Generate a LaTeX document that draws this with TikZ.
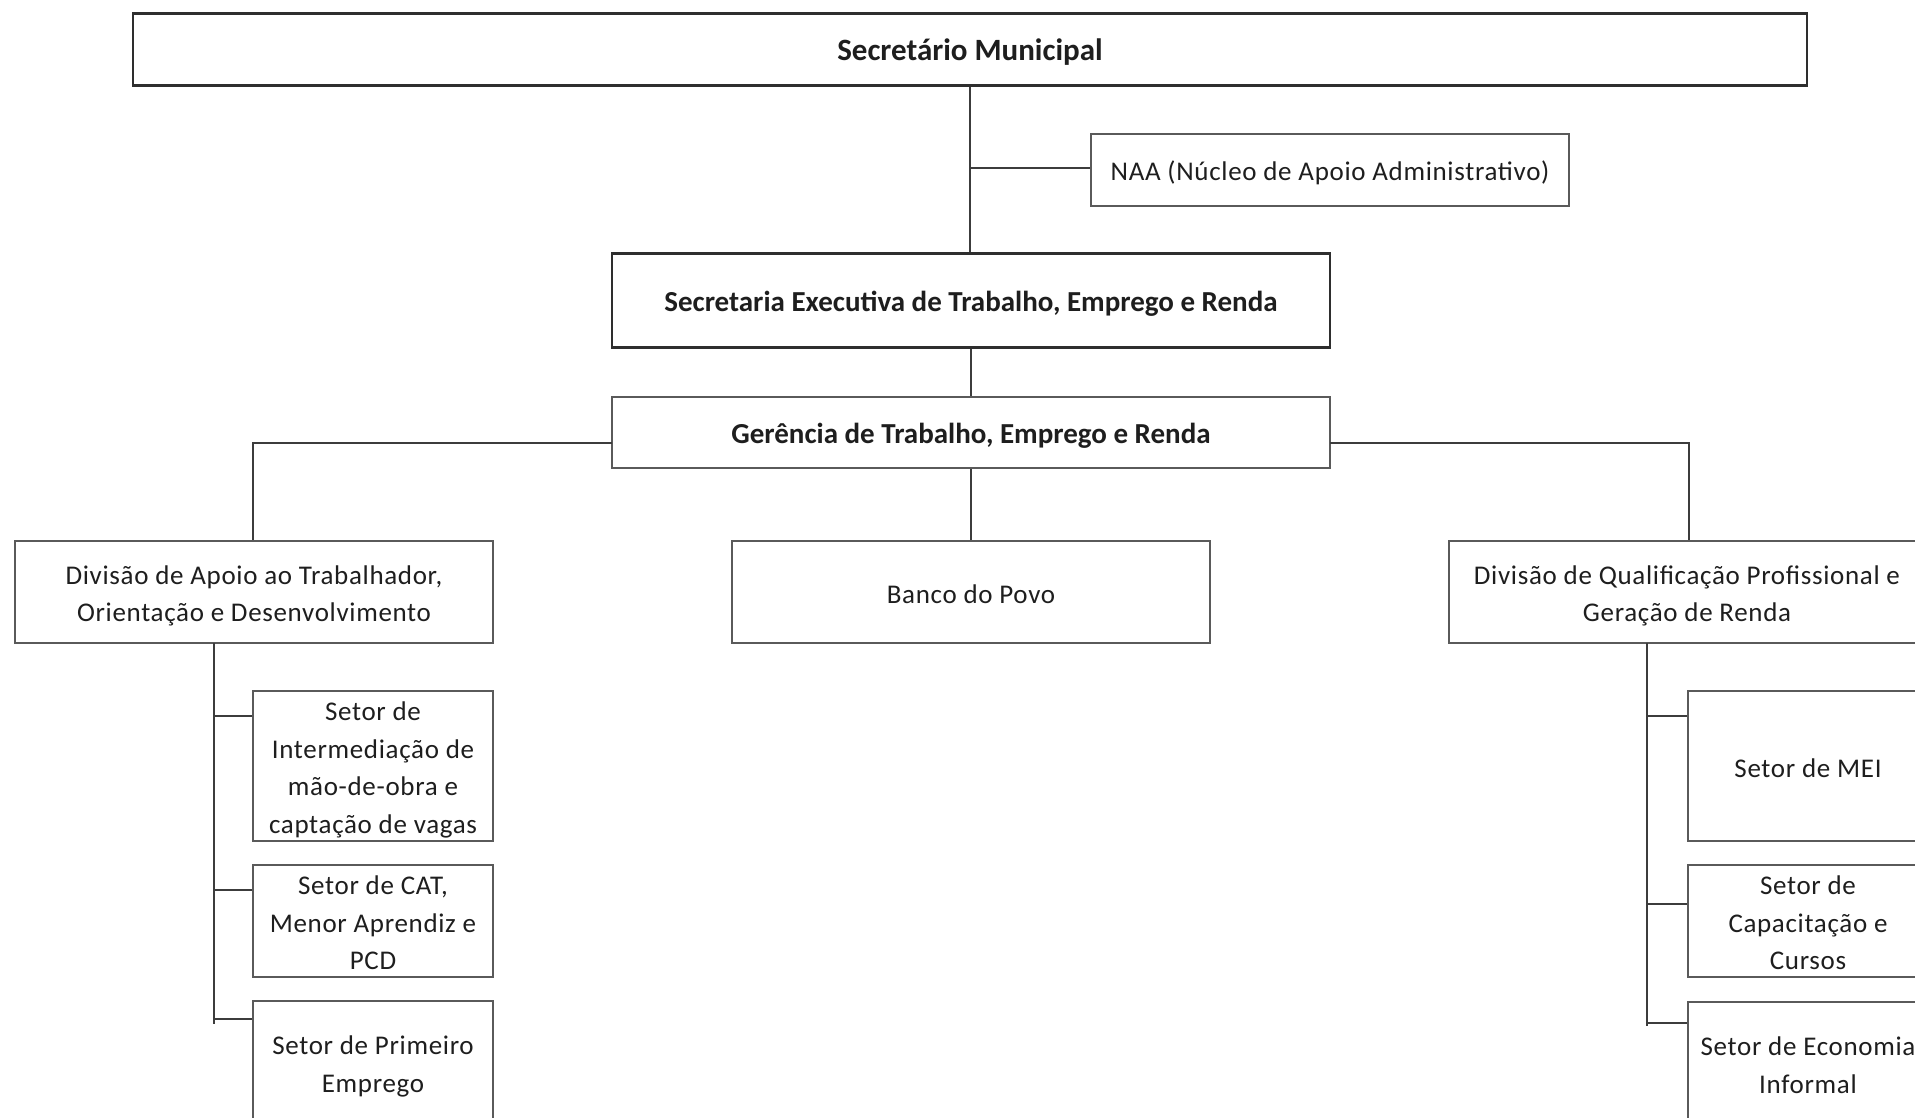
\documentclass[tikz,border=0pt]{standalone}
\usepackage{fontspec}
\setmainfont{Carlito}
\newfontfamily\spacedfont{Carlito}[LetterSpace=2.5]
\definecolor{boxgray}{HTML}{5A5A5A}
\definecolor{headgray}{HTML}{2E2E2E}
\definecolor{linkgray}{HTML}{3C3C3C}
\definecolor{txt}{HTML}{1E1E1E}
% centred lines, set a little below the middle of their box
\newcommand\boxlines[1]{\raisebox{-3.5pt}[\height][\depth]{\begin{tabular}{@{}c@{}}#1\end{tabular}}}
\begin{document}
\begin{tikzpicture}[x=1pt,y=-1pt,
  box/.style={draw=boxgray, line width=1.6pt, rectangle, inner sep=0pt,
    text=txt, fill=white,
    font=\spacedfont\fontsize{27}{37.5}\selectfont},
  boldbox/.style={box, font=\normalfont\bfseries\fontsize{29}{36}\selectfont},
  headbox/.style={boldbox, draw=headgray, line width=2.6pt},
  link/.style={draw=linkgray, line width=2pt}]
\useasboundingbox (0,0) rectangle (1915,1118);
\clip (0,0) rectangle (1915,1118);

% upper levels
\node[headbox, minimum width=1674pt, minimum height=72pt,
  font=\normalfont\bfseries\fontsize{31}{36}\selectfont] (sec) at (970,49.5) {\boxlines{Secretário Municipal}};
\node[box, minimum width=478pt, minimum height=72pt] (naa) at (1330,170) {\boxlines{NAA (Núcleo de Apoio Administrativo)}};
\node[headbox, minimum width=718pt, minimum height=94pt] (exec) at (971,300.5) {\boxlines{Secretaria Executiva de Trabalho, Emprego e Renda}};
\node[boldbox, minimum width=718pt, minimum height=71pt] (ger) at (971,432.5) {\boxlines{Gerência de Trabalho, Emprego e Renda}};

% divisions
\node[box, minimum width=478pt, minimum height=102pt] (divA) at (254,592) {\boxlines{Divisão de Apoio ao Trabalhador,\\Orientação e Desenvolvimento}};
\node[box, minimum width=478pt, minimum height=102pt] (banco) at (971,592) {\boxlines{Banco do Povo}};
\node[box, minimum width=476pt, minimum height=102pt] (divQ) at (1687,592) {\boxlines{Divisão de Qualificação Profissional e\\Geração de Renda}};

% sectors under the first division
\node[box, minimum width=240pt, minimum height=150pt] (sA1) at (373,766) {\boxlines{Setor de\\Intermediação de\\mão-de-obra e\\captação de vagas}};
\node[box, minimum width=240pt, minimum height=110pt] (sA2) at (373,921) {\boxlines{Setor de CAT,\\Menor Aprendiz e\\PCD}};
\node[box, minimum width=240pt, minimum height=123pt] (sA3) at (373,1062.5) {\boxlines{Setor de Primeiro\\Emprego}};

% sectors under the second division
\node[box, minimum width=240pt, minimum height=150pt] (sQ1) at (1808,766) {\boxlines{Setor de MEI}};
\node[box, minimum width=240pt, minimum height=110pt] (sQ2) at (1808,921) {\boxlines{Setor de\\Capacitação e\\Cursos}};
\node[box, minimum width=240pt, minimum height=123pt] (sQ3) at (1808,1063.5) {\boxlines{Setor de Economia\\Informal}};

% junction points
\coordinate (naaJ) at (970,168);
\coordinate (gerL) at (612,443);
\coordinate (gerR) at (1330,443);
\coordinate (trunkA) at (214,643);
\coordinate (endA) at (214,1024);
\coordinate (trunkQ) at (1647,643);
\coordinate (endQ) at (1647,1026);

% connectors
\draw[link] (sec.south -| naaJ) -- (exec.north -| naaJ);
\draw[link] (naaJ) -- (naa.west |- naaJ);
\draw[link] (exec.south) -- (ger.north);
\draw[link] (ger.south) -- (banco.north);
\draw[link] (gerL) -| (divA.north -| 253,0);
\draw[link] (gerR) -| (divQ.north -| 1689,0);

\draw[link] (trunkA) -- (endA);
\draw[link] (sA1.west |- 0,716) -- (trunkA |- 0,716);
\draw[link] (sA2.west |- 0,890) -- (trunkA |- 0,890);
\draw[link] (sA3.west |- 0,1019) -- (trunkA |- 0,1019);

\draw[link] (trunkQ) -- (endQ);
\draw[link] (sQ1.west |- 0,716) -- (trunkQ |- 0,716);
\draw[link] (sQ2.west |- 0,904) -- (trunkQ |- 0,904);
\draw[link] (sQ3.west |- 0,1023) -- (trunkQ |- 0,1023);
\end{tikzpicture}
\end{document}
